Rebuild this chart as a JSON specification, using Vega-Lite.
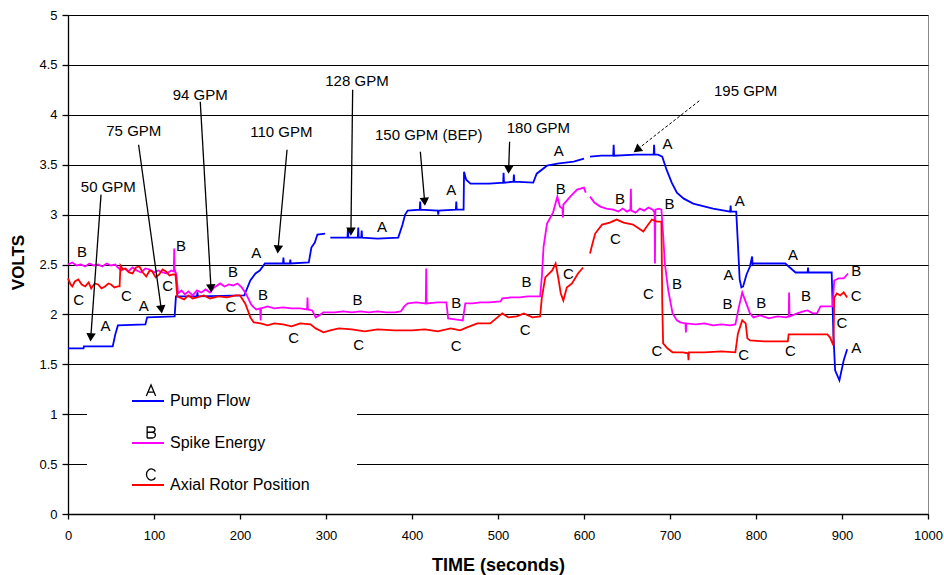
{
  "$schema": "https://vega.github.io/schema/vega-lite/v6.json",
  "width": 860,
  "height": 499,
  "autosize": {"type": "none"},
  "padding": {"left": 68, "top": 15, "right": 16, "bottom": 61},
  "background": "white",
  "config": {
    "view": {"stroke": "#888888", "strokeWidth": 1},
    "font": "Liberation Sans",
    "text": {"font": "Liberation Sans", "color": "black"}
  },
  "datasets": {
    "lines": [
      {"s":"Pump Flow","g":1,"t":0,"v":1.66},{"s":"Pump Flow","g":1,"t":18,"v":1.66},{"s":"Pump Flow","g":1,"t":18.5,"v":1.68},{"s":"Pump Flow","g":1,"t":52,"v":1.68},{"s":"Pump Flow","g":1,"t":55,"v":1.8},{"s":"Pump Flow","g":1,"t":58,"v":1.89},{"s":"Pump Flow","g":1,"t":90,"v":1.9},{"s":"Pump Flow","g":1,"t":92,"v":1.97},{"s":"Pump Flow","g":1,"t":124,"v":1.98},{"s":"Pump Flow","g":1,"t":125.5,"v":2.18},{"s":"Pump Flow","g":1,"t":150,"v":2.18},{"s":"Pump Flow","g":1,"t":150.5,"v":2.22},{"s":"Pump Flow","g":1,"t":151,"v":2.18},{"s":"Pump Flow","g":1,"t":205,"v":2.19},{"s":"Pump Flow","g":1,"t":212,"v":2.34},{"s":"Pump Flow","g":1,"t":218,"v":2.41},{"s":"Pump Flow","g":1,"t":223,"v":2.44},{"s":"Pump Flow","g":1,"t":229,"v":2.51},{"s":"Pump Flow","g":1,"t":250,"v":2.51},{"s":"Pump Flow","g":1,"t":250.5,"v":2.57},{"s":"Pump Flow","g":1,"t":251,"v":2.51},{"s":"Pump Flow","g":1,"t":258,"v":2.51},{"s":"Pump Flow","g":1,"t":258.5,"v":2.55},{"s":"Pump Flow","g":1,"t":259,"v":2.51},{"s":"Pump Flow","g":1,"t":280,"v":2.52},{"s":"Pump Flow","g":1,"t":283,"v":2.67},{"s":"Pump Flow","g":1,"t":287,"v":2.72},{"s":"Pump Flow","g":1,"t":290,"v":2.8},{"s":"Pump Flow","g":1,"t":299,"v":2.81},
      {"s":"Pump Flow","g":2,"t":305,"v":2.77},{"s":"Pump Flow","g":2,"t":325,"v":2.77},{"s":"Pump Flow","g":2,"t":325.5,"v":2.86},{"s":"Pump Flow","g":2,"t":326,"v":2.77},{"s":"Pump Flow","g":2,"t":337,"v":2.77},{"s":"Pump Flow","g":2,"t":337.5,"v":2.87},{"s":"Pump Flow","g":2,"t":338,"v":2.77},{"s":"Pump Flow","g":2,"t":341,"v":2.77},{"s":"Pump Flow","g":2,"t":341.5,"v":2.84},{"s":"Pump Flow","g":2,"t":342,"v":2.77},{"s":"Pump Flow","g":2,"t":360,"v":2.76},{"s":"Pump Flow","g":2,"t":384,"v":2.77},{"s":"Pump Flow","g":2,"t":389,"v":2.9},{"s":"Pump Flow","g":2,"t":392,"v":3.0},{"s":"Pump Flow","g":2,"t":395,"v":3.04},{"s":"Pump Flow","g":2,"t":409,"v":3.05},{"s":"Pump Flow","g":2,"t":409.5,"v":3.13},{"s":"Pump Flow","g":2,"t":410,"v":3.05},{"s":"Pump Flow","g":2,"t":430,"v":3.04},{"s":"Pump Flow","g":2,"t":430.5,"v":3.0},{"s":"Pump Flow","g":2,"t":431,"v":3.04},{"s":"Pump Flow","g":2,"t":451,"v":3.05},{"s":"Pump Flow","g":2,"t":451.5,"v":3.13},{"s":"Pump Flow","g":2,"t":452,"v":3.05},{"s":"Pump Flow","g":2,"t":460,"v":3.05},{"s":"Pump Flow","g":2,"t":460.5,"v":3.43},{"s":"Pump Flow","g":2,"t":463,"v":3.35},{"s":"Pump Flow","g":2,"t":468,"v":3.31},{"s":"Pump Flow","g":2,"t":490,"v":3.31},{"s":"Pump Flow","g":2,"t":506,"v":3.32},{"s":"Pump Flow","g":2,"t":506.5,"v":3.42},{"s":"Pump Flow","g":2,"t":507,"v":3.32},{"s":"Pump Flow","g":2,"t":518,"v":3.33},{"s":"Pump Flow","g":2,"t":518.5,"v":3.4},{"s":"Pump Flow","g":2,"t":519,"v":3.33},{"s":"Pump Flow","g":2,"t":541,"v":3.32},{"s":"Pump Flow","g":2,"t":545,"v":3.41},{"s":"Pump Flow","g":2,"t":557,"v":3.49},{"s":"Pump Flow","g":2,"t":569,"v":3.51},{"s":"Pump Flow","g":2,"t":588,"v":3.53},{"s":"Pump Flow","g":2,"t":600,"v":3.56},
      {"s":"Pump Flow","g":3,"t":607,"v":3.58},{"s":"Pump Flow","g":3,"t":620,"v":3.59},{"s":"Pump Flow","g":3,"t":634,"v":3.59},{"s":"Pump Flow","g":3,"t":634.5,"v":3.7},{"s":"Pump Flow","g":3,"t":635,"v":3.59},{"s":"Pump Flow","g":3,"t":660,"v":3.6},{"s":"Pump Flow","g":3,"t":681,"v":3.6},{"s":"Pump Flow","g":3,"t":681.5,"v":3.7},{"s":"Pump Flow","g":3,"t":682,"v":3.6},{"s":"Pump Flow","g":3,"t":686,"v":3.6},{"s":"Pump Flow","g":3,"t":691,"v":3.58},{"s":"Pump Flow","g":3,"t":696,"v":3.45},{"s":"Pump Flow","g":3,"t":702,"v":3.32},{"s":"Pump Flow","g":3,"t":708,"v":3.22},{"s":"Pump Flow","g":3,"t":716,"v":3.16},{"s":"Pump Flow","g":3,"t":727,"v":3.11},{"s":"Pump Flow","g":3,"t":750,"v":3.06},{"s":"Pump Flow","g":3,"t":770,"v":3.03},{"s":"Pump Flow","g":3,"t":770.5,"v":3.09},{"s":"Pump Flow","g":3,"t":771,"v":3.03},{"s":"Pump Flow","g":3,"t":777,"v":3.03},{"s":"Pump Flow","g":3,"t":779,"v":2.7},{"s":"Pump Flow","g":3,"t":781,"v":2.35},{"s":"Pump Flow","g":3,"t":783,"v":2.27},{"s":"Pump Flow","g":3,"t":785,"v":2.28},{"s":"Pump Flow","g":3,"t":789,"v":2.4},{"s":"Pump Flow","g":3,"t":793,"v":2.48},{"s":"Pump Flow","g":3,"t":795.5,"v":2.58},{"s":"Pump Flow","g":3,"t":796,"v":2.5},{"s":"Pump Flow","g":3,"t":797,"v":2.51},{"s":"Pump Flow","g":3,"t":834,"v":2.51},{"s":"Pump Flow","g":3,"t":846,"v":2.42},{"s":"Pump Flow","g":3,"t":860,"v":2.42},{"s":"Pump Flow","g":3,"t":860.5,"v":2.47},{"s":"Pump Flow","g":3,"t":861,"v":2.42},{"s":"Pump Flow","g":3,"t":888,"v":2.42},{"s":"Pump Flow","g":3,"t":890,"v":1.8},{"s":"Pump Flow","g":3,"t":892,"v":1.44},{"s":"Pump Flow","g":3,"t":897,"v":1.34},{"s":"Pump Flow","g":3,"t":902,"v":1.54},{"s":"Pump Flow","g":3,"t":906,"v":1.65},

      {"s":"Spike Energy","g":1,"t":0,"v":2.5},{"s":"Spike Energy","g":1,"t":5,"v":2.52},{"s":"Spike Energy","g":1,"t":10,"v":2.49},{"s":"Spike Energy","g":1,"t":15,"v":2.5},{"s":"Spike Energy","g":1,"t":20,"v":2.48},{"s":"Spike Energy","g":1,"t":25,"v":2.51},{"s":"Spike Energy","g":1,"t":30,"v":2.49},{"s":"Spike Energy","g":1,"t":35,"v":2.5},{"s":"Spike Energy","g":1,"t":40,"v":2.48},{"s":"Spike Energy","g":1,"t":45,"v":2.51},{"s":"Spike Energy","g":1,"t":50,"v":2.49},{"s":"Spike Energy","g":1,"t":55,"v":2.5},{"s":"Spike Energy","g":1,"t":58,"v":2.47},{"s":"Spike Energy","g":1,"t":62,"v":2.44},{"s":"Spike Energy","g":1,"t":66,"v":2.46},{"s":"Spike Energy","g":1,"t":70,"v":2.43},{"s":"Spike Energy","g":1,"t":75,"v":2.47},{"s":"Spike Energy","g":1,"t":80,"v":2.44},{"s":"Spike Energy","g":1,"t":85,"v":2.42},{"s":"Spike Energy","g":1,"t":90,"v":2.46},{"s":"Spike Energy","g":1,"t":95,"v":2.45},{"s":"Spike Energy","g":1,"t":100,"v":2.42},{"s":"Spike Energy","g":1,"t":105,"v":2.44},{"s":"Spike Energy","g":1,"t":110,"v":2.42},{"s":"Spike Energy","g":1,"t":115,"v":2.41},{"s":"Spike Energy","g":1,"t":120,"v":2.44},{"s":"Spike Energy","g":1,"t":123,"v":2.43},{"s":"Spike Energy","g":1,"t":123.5,"v":2.66},{"s":"Spike Energy","g":1,"t":124,"v":2.45},{"s":"Spike Energy","g":1,"t":126,"v":2.4},{"s":"Spike Energy","g":1,"t":128,"v":2.21},{"s":"Spike Energy","g":1,"t":132,"v":2.24},{"s":"Spike Energy","g":1,"t":136,"v":2.2},{"s":"Spike Energy","g":1,"t":140,"v":2.23},{"s":"Spike Energy","g":1,"t":145,"v":2.19},{"s":"Spike Energy","g":1,"t":150,"v":2.24},{"s":"Spike Energy","g":1,"t":155,"v":2.22},{"s":"Spike Energy","g":1,"t":160,"v":2.25},{"s":"Spike Energy","g":1,"t":165,"v":2.22},{"s":"Spike Energy","g":1,"t":170,"v":2.27},{"s":"Spike Energy","g":1,"t":177,"v":2.31},{"s":"Spike Energy","g":1,"t":182,"v":2.28},{"s":"Spike Energy","g":1,"t":187,"v":2.3},{"s":"Spike Energy","g":1,"t":192,"v":2.29},{"s":"Spike Energy","g":1,"t":197,"v":2.31},{"s":"Spike Energy","g":1,"t":202,"v":2.27},{"s":"Spike Energy","g":1,"t":206,"v":2.22},{"s":"Spike Energy","g":1,"t":209,"v":2.17},{"s":"Spike Energy","g":1,"t":213,"v":2.1},{"s":"Spike Energy","g":1,"t":216,"v":2.07},{"s":"Spike Energy","g":1,"t":219,"v":2.05},{"s":"Spike Energy","g":1,"t":223.5,"v":2.06},{"s":"Spike Energy","g":1,"t":224,"v":1.94},{"s":"Spike Energy","g":1,"t":224.5,"v":2.06},{"s":"Spike Energy","g":1,"t":232,"v":2.08},{"s":"Spike Energy","g":1,"t":240,"v":2.06},{"s":"Spike Energy","g":1,"t":250,"v":2.07},{"s":"Spike Energy","g":1,"t":260,"v":2.06},{"s":"Spike Energy","g":1,"t":270,"v":2.06},{"s":"Spike Energy","g":1,"t":278,"v":2.05},{"s":"Spike Energy","g":1,"t":278.5,"v":2.17},{"s":"Spike Energy","g":1,"t":279,"v":2.05},{"s":"Spike Energy","g":1,"t":284,"v":2.04},{"s":"Spike Energy","g":1,"t":288,"v":1.97},{"s":"Spike Energy","g":1,"t":292,"v":1.99},{"s":"Spike Energy","g":1,"t":297,"v":2.02},{"s":"Spike Energy","g":1,"t":310,"v":2.02},{"s":"Spike Energy","g":1,"t":320,"v":2.03},{"s":"Spike Energy","g":1,"t":330,"v":2.02},{"s":"Spike Energy","g":1,"t":340,"v":2.03},{"s":"Spike Energy","g":1,"t":350,"v":2.02},{"s":"Spike Energy","g":1,"t":360,"v":2.03},{"s":"Spike Energy","g":1,"t":370,"v":2.02},{"s":"Spike Energy","g":1,"t":380,"v":2.02},{"s":"Spike Energy","g":1,"t":387,"v":2.03},{"s":"Spike Energy","g":1,"t":391,"v":2.08},{"s":"Spike Energy","g":1,"t":395,"v":2.11},{"s":"Spike Energy","g":1,"t":405,"v":2.12},{"s":"Spike Energy","g":1,"t":416,"v":2.11},{"s":"Spike Energy","g":1,"t":416.5,"v":2.46},{"s":"Spike Energy","g":1,"t":417,"v":2.11},{"s":"Spike Energy","g":1,"t":430,"v":2.12},{"s":"Spike Energy","g":1,"t":440,"v":2.12},{"s":"Spike Energy","g":1,"t":442,"v":1.96},{"s":"Spike Energy","g":1,"t":450,"v":1.95},{"s":"Spike Energy","g":1,"t":459,"v":1.94},{"s":"Spike Energy","g":1,"t":462,"v":2.11},{"s":"Spike Energy","g":1,"t":470,"v":2.11},{"s":"Spike Energy","g":1,"t":480,"v":2.12},{"s":"Spike Energy","g":1,"t":490,"v":2.12},{"s":"Spike Energy","g":1,"t":503,"v":2.13},{"s":"Spike Energy","g":1,"t":505,"v":2.16},{"s":"Spike Energy","g":1,"t":515,"v":2.17},{"s":"Spike Energy","g":1,"t":525,"v":2.17},{"s":"Spike Energy","g":1,"t":535,"v":2.18},{"s":"Spike Energy","g":1,"t":549,"v":2.18},{"s":"Spike Energy","g":1,"t":551,"v":2.38},{"s":"Spike Energy","g":1,"t":553,"v":2.68},{"s":"Spike Energy","g":1,"t":557,"v":2.91},{"s":"Spike Energy","g":1,"t":564,"v":3.02},{"s":"Spike Energy","g":1,"t":569,"v":3.18},{"s":"Spike Energy","g":1,"t":572,"v":3.08},{"s":"Spike Energy","g":1,"t":575,"v":3.06},{"s":"Spike Energy","g":1,"t":575.5,"v":2.97},{"s":"Spike Energy","g":1,"t":576,"v":3.1},{"s":"Spike Energy","g":1,"t":584,"v":3.18},{"s":"Spike Energy","g":1,"t":592,"v":3.25},{"s":"Spike Energy","g":1,"t":600,"v":3.27},{"s":"Spike Energy","g":1,"t":602,"v":3.22},
      {"s":"Spike Energy","g":2,"t":607,"v":3.18},{"s":"Spike Energy","g":2,"t":612,"v":3.12},{"s":"Spike Energy","g":2,"t":619,"v":3.08},{"s":"Spike Energy","g":2,"t":626,"v":3.06},{"s":"Spike Energy","g":2,"t":634,"v":3.05},{"s":"Spike Energy","g":2,"t":640,"v":3.03},{"s":"Spike Energy","g":2,"t":645,"v":3.06},{"s":"Spike Energy","g":2,"t":650,"v":3.03},{"s":"Spike Energy","g":2,"t":654,"v":3.05},{"s":"Spike Energy","g":2,"t":654.5,"v":3.26},{"s":"Spike Energy","g":2,"t":655,"v":3.04},{"s":"Spike Energy","g":2,"t":660,"v":3.02},{"s":"Spike Energy","g":2,"t":665,"v":3.06},{"s":"Spike Energy","g":2,"t":670,"v":3.04},{"s":"Spike Energy","g":2,"t":675,"v":3.07},{"s":"Spike Energy","g":2,"t":680,"v":3.05},{"s":"Spike Energy","g":2,"t":682,"v":3.02},{"s":"Spike Energy","g":2,"t":682.5,"v":2.51},{"s":"Spike Energy","g":2,"t":683,"v":3.05},{"s":"Spike Energy","g":2,"t":687,"v":3.06},{"s":"Spike Energy","g":2,"t":690,"v":3.05},{"s":"Spike Energy","g":2,"t":692,"v":2.8},{"s":"Spike Energy","g":2,"t":694,"v":2.51},{"s":"Spike Energy","g":2,"t":698,"v":2.24},{"s":"Spike Energy","g":2,"t":703,"v":2.01},{"s":"Spike Energy","g":2,"t":708,"v":1.94},{"s":"Spike Energy","g":2,"t":712,"v":1.92},{"s":"Spike Energy","g":2,"t":718,"v":1.91},{"s":"Spike Energy","g":2,"t":718.5,"v":1.82},{"s":"Spike Energy","g":2,"t":719,"v":1.91},{"s":"Spike Energy","g":2,"t":730,"v":1.9},{"s":"Spike Energy","g":2,"t":740,"v":1.91},{"s":"Spike Energy","g":2,"t":750,"v":1.89},{"s":"Spike Energy","g":2,"t":760,"v":1.9},{"s":"Spike Energy","g":2,"t":770,"v":1.89},{"s":"Spike Energy","g":2,"t":776,"v":1.9},{"s":"Spike Energy","g":2,"t":780,"v":2.07},{"s":"Spike Energy","g":2,"t":784,"v":2.22},{"s":"Spike Energy","g":2,"t":787,"v":2.15},{"s":"Spike Energy","g":2,"t":790,"v":2.08},{"s":"Spike Energy","g":2,"t":793,"v":2.01},{"s":"Spike Energy","g":2,"t":797,"v":1.97},{"s":"Spike Energy","g":2,"t":805,"v":1.99},{"s":"Spike Energy","g":2,"t":815,"v":1.96},{"s":"Spike Energy","g":2,"t":825,"v":1.98},{"s":"Spike Energy","g":2,"t":835,"v":1.97},{"s":"Spike Energy","g":2,"t":838,"v":1.98},{"s":"Spike Energy","g":2,"t":838.5,"v":2.22},{"s":"Spike Energy","g":2,"t":839,"v":1.98},{"s":"Spike Energy","g":2,"t":848,"v":2.01},{"s":"Spike Energy","g":2,"t":855,"v":2.03},{"s":"Spike Energy","g":2,"t":860,"v":2.04},{"s":"Spike Energy","g":2,"t":866,"v":2.01},{"s":"Spike Energy","g":2,"t":871,"v":2.01},{"s":"Spike Energy","g":2,"t":875,"v":2.08},{"s":"Spike Energy","g":2,"t":889,"v":2.08},{"s":"Spike Energy","g":2,"t":891,"v":2.34},{"s":"Spike Energy","g":2,"t":896,"v":2.36},{"s":"Spike Energy","g":2,"t":902,"v":2.36},{"s":"Spike Energy","g":2,"t":907,"v":2.41},

      {"s":"Axial Rotor Position","g":1,"t":0,"v":2.36},{"s":"Axial Rotor Position","g":1,"t":3,"v":2.3},{"s":"Axial Rotor Position","g":1,"t":5,"v":2.28},{"s":"Axial Rotor Position","g":1,"t":8,"v":2.33},{"s":"Axial Rotor Position","g":1,"t":12,"v":2.35},{"s":"Axial Rotor Position","g":1,"t":16,"v":2.3},{"s":"Axial Rotor Position","g":1,"t":20,"v":2.28},{"s":"Axial Rotor Position","g":1,"t":24,"v":2.32},{"s":"Axial Rotor Position","g":1,"t":27,"v":2.26},{"s":"Axial Rotor Position","g":1,"t":31,"v":2.31},{"s":"Axial Rotor Position","g":1,"t":35,"v":2.3},{"s":"Axial Rotor Position","g":1,"t":39,"v":2.26},{"s":"Axial Rotor Position","g":1,"t":43,"v":2.28},{"s":"Axial Rotor Position","g":1,"t":47,"v":2.31},{"s":"Axial Rotor Position","g":1,"t":50,"v":2.3},{"s":"Axial Rotor Position","g":1,"t":54,"v":2.27},{"s":"Axial Rotor Position","g":1,"t":58,"v":2.28},{"s":"Axial Rotor Position","g":1,"t":60,"v":2.28},{"s":"Axial Rotor Position","g":1,"t":61,"v":2.49},{"s":"Axial Rotor Position","g":1,"t":64,"v":2.45},{"s":"Axial Rotor Position","g":1,"t":67,"v":2.46},{"s":"Axial Rotor Position","g":1,"t":71,"v":2.42},{"s":"Axial Rotor Position","g":1,"t":75,"v":2.41},{"s":"Axial Rotor Position","g":1,"t":79,"v":2.47},{"s":"Axial Rotor Position","g":1,"t":83,"v":2.48},{"s":"Axial Rotor Position","g":1,"t":87,"v":2.42},{"s":"Axial Rotor Position","g":1,"t":91,"v":2.38},{"s":"Axial Rotor Position","g":1,"t":95,"v":2.44},{"s":"Axial Rotor Position","g":1,"t":98,"v":2.43},{"s":"Axial Rotor Position","g":1,"t":102,"v":2.37},{"s":"Axial Rotor Position","g":1,"t":106,"v":2.4},{"s":"Axial Rotor Position","g":1,"t":110,"v":2.45},{"s":"Axial Rotor Position","g":1,"t":114,"v":2.43},{"s":"Axial Rotor Position","g":1,"t":118,"v":2.39},{"s":"Axial Rotor Position","g":1,"t":122,"v":2.4},{"s":"Axial Rotor Position","g":1,"t":125,"v":2.4},{"s":"Axial Rotor Position","g":1,"t":127,"v":2.18},{"s":"Axial Rotor Position","g":1,"t":135,"v":2.15},{"s":"Axial Rotor Position","g":1,"t":140,"v":2.19},{"s":"Axial Rotor Position","g":1,"t":145,"v":2.16},{"s":"Axial Rotor Position","g":1,"t":150,"v":2.17},{"s":"Axial Rotor Position","g":1,"t":158,"v":2.19},{"s":"Axial Rotor Position","g":1,"t":165,"v":2.16},{"s":"Axial Rotor Position","g":1,"t":175,"v":2.18},{"s":"Axial Rotor Position","g":1,"t":185,"v":2.17},{"s":"Axial Rotor Position","g":1,"t":195,"v":2.19},{"s":"Axial Rotor Position","g":1,"t":200,"v":2.19},{"s":"Axial Rotor Position","g":1,"t":206,"v":2.11},{"s":"Axial Rotor Position","g":1,"t":210,"v":2.02},{"s":"Axial Rotor Position","g":1,"t":212,"v":1.97},{"s":"Axial Rotor Position","g":1,"t":216,"v":1.92},{"s":"Axial Rotor Position","g":1,"t":224,"v":1.91},{"s":"Axial Rotor Position","g":1,"t":232,"v":1.89},{"s":"Axial Rotor Position","g":1,"t":240,"v":1.91},{"s":"Axial Rotor Position","g":1,"t":250,"v":1.9},{"s":"Axial Rotor Position","g":1,"t":260,"v":1.88},{"s":"Axial Rotor Position","g":1,"t":270,"v":1.91},{"s":"Axial Rotor Position","g":1,"t":282,"v":1.9},{"s":"Axial Rotor Position","g":1,"t":288,"v":1.86},{"s":"Axial Rotor Position","g":1,"t":297,"v":1.82},{"s":"Axial Rotor Position","g":1,"t":305,"v":1.84},{"s":"Axial Rotor Position","g":1,"t":315,"v":1.86},{"s":"Axial Rotor Position","g":1,"t":330,"v":1.85},{"s":"Axial Rotor Position","g":1,"t":345,"v":1.83},{"s":"Axial Rotor Position","g":1,"t":360,"v":1.85},{"s":"Axial Rotor Position","g":1,"t":380,"v":1.84},{"s":"Axial Rotor Position","g":1,"t":400,"v":1.84},{"s":"Axial Rotor Position","g":1,"t":415,"v":1.85},{"s":"Axial Rotor Position","g":1,"t":430,"v":1.83},{"s":"Axial Rotor Position","g":1,"t":445,"v":1.86},{"s":"Axial Rotor Position","g":1,"t":456,"v":1.84},{"s":"Axial Rotor Position","g":1,"t":464,"v":1.87},{"s":"Axial Rotor Position","g":1,"t":476,"v":1.91},{"s":"Axial Rotor Position","g":1,"t":491,"v":1.91},{"s":"Axial Rotor Position","g":1,"t":505,"v":2.01},{"s":"Axial Rotor Position","g":1,"t":512,"v":1.97},{"s":"Axial Rotor Position","g":1,"t":522,"v":1.98},{"s":"Axial Rotor Position","g":1,"t":530,"v":2.01},{"s":"Axial Rotor Position","g":1,"t":540,"v":1.97},{"s":"Axial Rotor Position","g":1,"t":549,"v":1.98},{"s":"Axial Rotor Position","g":1,"t":551,"v":2.17},{"s":"Axial Rotor Position","g":1,"t":555,"v":2.37},{"s":"Axial Rotor Position","g":1,"t":563,"v":2.44},{"s":"Axial Rotor Position","g":1,"t":567,"v":2.51},{"s":"Axial Rotor Position","g":1,"t":570,"v":2.37},{"s":"Axial Rotor Position","g":1,"t":573,"v":2.21},{"s":"Axial Rotor Position","g":1,"t":576,"v":2.14},{"s":"Axial Rotor Position","g":1,"t":580,"v":2.27},{"s":"Axial Rotor Position","g":1,"t":586,"v":2.31},{"s":"Axial Rotor Position","g":1,"t":593,"v":2.41},{"s":"Axial Rotor Position","g":1,"t":599,"v":2.47},
      {"s":"Axial Rotor Position","g":2,"t":607,"v":2.61},{"s":"Axial Rotor Position","g":2,"t":609,"v":2.68},{"s":"Axial Rotor Position","g":2,"t":613,"v":2.81},{"s":"Axial Rotor Position","g":2,"t":621,"v":2.9},{"s":"Axial Rotor Position","g":2,"t":630,"v":2.92},{"s":"Axial Rotor Position","g":2,"t":638,"v":2.95},{"s":"Axial Rotor Position","g":2,"t":646,"v":2.92},{"s":"Axial Rotor Position","g":2,"t":657,"v":2.9},{"s":"Axial Rotor Position","g":2,"t":669,"v":2.83},{"s":"Axial Rotor Position","g":2,"t":673,"v":2.88},{"s":"Axial Rotor Position","g":2,"t":679,"v":2.95},{"s":"Axial Rotor Position","g":2,"t":685,"v":2.93},{"s":"Axial Rotor Position","g":2,"t":690,"v":2.93},{"s":"Axial Rotor Position","g":2,"t":691,"v":2.11},{"s":"Axial Rotor Position","g":2,"t":692,"v":1.71},{"s":"Axial Rotor Position","g":2,"t":697,"v":1.66},{"s":"Axial Rotor Position","g":2,"t":703,"v":1.62},{"s":"Axial Rotor Position","g":2,"t":715,"v":1.62},{"s":"Axial Rotor Position","g":2,"t":721,"v":1.61},{"s":"Axial Rotor Position","g":2,"t":721.5,"v":1.54},{"s":"Axial Rotor Position","g":2,"t":722,"v":1.62},{"s":"Axial Rotor Position","g":2,"t":740,"v":1.62},{"s":"Axial Rotor Position","g":2,"t":760,"v":1.63},{"s":"Axial Rotor Position","g":2,"t":776,"v":1.62},{"s":"Axial Rotor Position","g":2,"t":779,"v":1.81},{"s":"Axial Rotor Position","g":2,"t":784,"v":1.94},{"s":"Axial Rotor Position","g":2,"t":788,"v":1.91},{"s":"Axial Rotor Position","g":2,"t":790,"v":1.76},{"s":"Axial Rotor Position","g":2,"t":793,"v":1.74},{"s":"Axial Rotor Position","g":2,"t":810,"v":1.73},{"s":"Axial Rotor Position","g":2,"t":837,"v":1.73},{"s":"Axial Rotor Position","g":2,"t":838,"v":1.8},{"s":"Axial Rotor Position","g":2,"t":860,"v":1.8},{"s":"Axial Rotor Position","g":2,"t":883,"v":1.8},{"s":"Axial Rotor Position","g":2,"t":886,"v":1.77},{"s":"Axial Rotor Position","g":2,"t":890,"v":1.69},{"s":"Axial Rotor Position","g":2,"t":891,"v":2.17},{"s":"Axial Rotor Position","g":2,"t":894,"v":2.21},{"s":"Axial Rotor Position","g":2,"t":898,"v":2.19},{"s":"Axial Rotor Position","g":2,"t":902,"v":2.22},{"s":"Axial Rotor Position","g":2,"t":906,"v":2.17}
    ],
    "marks": [
      {"k":"A","t":43.6,"v":1.88},{"k":"A","t":88,"v":2.08},{"k":"A","t":219,"v":2.62},{"k":"A","t":365,"v":2.88},{"k":"A","t":445.7,"v":3.25},{"k":"A","t":570.5,"v":3.64},{"k":"A","t":697,"v":3.71},{"k":"A","t":781,"v":3.14},{"k":"A","t":768,"v":2.39},{"k":"A","t":843,"v":2.6},{"k":"A","t":916.6,"v":1.66},
      {"k":"B","t":16.3,"v":2.63},{"k":"B","t":131.4,"v":2.69},{"k":"B","t":191.9,"v":2.42},{"k":"B","t":226.7,"v":2.19},{"k":"B","t":336.7,"v":2.14},{"k":"B","t":451.5,"v":2.11},{"k":"B","t":533,"v":2.32},{"k":"B","t":573,"v":3.26},{"k":"B","t":642,"v":3.16},{"k":"B","t":699.5,"v":3.11},{"k":"B","t":708,"v":2.3},{"k":"B","t":767,"v":2.1},{"k":"B","t":806,"v":2.11},{"k":"B","t":858,"v":2.18},{"k":"B","t":916.6,"v":2.43},
      {"k":"C","t":12.3,"v":2.14},{"k":"C","t":67.8,"v":2.18},{"k":"C","t":115.8,"v":2.28},{"k":"C","t":189.5,"v":2.07},{"k":"C","t":262.3,"v":1.76},{"k":"C","t":338,"v":1.69},{"k":"C","t":451.5,"v":1.68},{"k":"C","t":531.7,"v":1.84},{"k":"C","t":582,"v":2.4},{"k":"C","t":636.4,"v":2.76},{"k":"C","t":675,"v":2.2},{"k":"C","t":684.9,"v":1.63},{"k":"C","t":785.6,"v":1.59},{"k":"C","t":839.9,"v":1.63},{"k":"C","t":900,"v":1.91},{"k":"C","t":916.6,"v":2.18}
    ],
    "arrows": [
      {"label":"50 GPM","tx":46.9,"ty":3.28,"x1":38.4,"y1":3.2,"x2":26.5,"y2":1.77},
      {"label":"75 GPM","tx":76.5,"ty":3.84,"x1":82.1,"y1":3.7,"x2":108.5,"y2":2.05},
      {"label":"94 GPM","tx":153.8,"ty":4.2,"x1":153.8,"y1":4.13,"x2":166.3,"y2":2.26},
      {"label":"110 GPM","tx":248,"ty":3.83,"x1":254.7,"y1":3.65,"x2":244.2,"y2":2.65},
      {"label":"128 GPM","tx":336,"ty":4.34,"x1":331,"y1":4.25,"x2":329,"y2":2.83},
      {"label":"150 GPM (BEP)","tx":419.5,"ty":3.8,"x1":409.7,"y1":3.63,"x2":414.7,"y2":3.13},
      {"label":"180 GPM","tx":547,"ty":3.87,"x1":513.5,"y1":3.73,"x2":512.4,"y2":3.45},
      {"label":"195 GPM","tx":788,"ty":4.24,"x1":734,"y1":4.14,"x2":661.6,"y2":3.65}
    ],
    "letters": [{"letter":"A"},{"letter":"B"},{"letter":"C"}]
  },
  "layer": [
    {
      "data": {"name": "lines"},
      "mark": {"type": "line", "strokeWidth": 1.8},
      "encoding": {
        "x": {"field": "t", "type": "quantitative", "title": "TIME (seconds)",
          "scale": {"domain": [0, 1000], "nice": false},
          "axis": {"values": [0,100,200,300,400,500,600,700,800,900,1000], "format": "d", "grid": false, "tickSize": 5, "tickColor": "black", "domainColor": "black", "domainWidth": 1.3, "tickWidth": 1.3, "labelFontSize": 13, "labelColor": "black", "labelPadding": 10, "labelFlush": false, "labelOverlap": false, "titleFontSize": 18, "titleFontWeight": "bold", "titleColor": "black", "titlePadding": 14}},
        "y": {"field": "v", "type": "quantitative", "title": "VOLTS",
          "scale": {"domain": [0, 5], "nice": false},
          "axis": {"values": [0,0.5,1,1.5,2,2.5,3,3.5,4,4.5,5], "format": "~g", "grid": true, "gridColor": "black", "gridOpacity": 1, "gridWidth": 1.1, "tickSize": 6, "tickColor": "black", "tickWidth": 1.3, "domainColor": "black", "domainWidth": 1.3, "labelFontSize": 13, "labelColor": "black", "labelPadding": 5, "labelOverlap": false, "titleFontSize": 17, "titleFontWeight": "bold", "titleColor": "black", "titleX": -50, "titleY": 247, "titleAngle": 270, "titleBaseline": "middle", "titleAlign": "center"}},
        "color": {"field": "s", "type": "nominal",
          "scale": {"domain": ["Pump Flow", "Spike Energy", "Axial Rotor Position"], "range": ["#0000ff", "#ff00ff", "#ff0000"]},
          "legend": {"orient": "none", "legendX": 19, "legendY": 359, "title": " ", "titleOrient": "right", "titlePadding": 37, "padding": 10, "fillColor": "white", "symbolType": "stroke", "symbolSize": 1024, "symbolStrokeWidth": 2, "symbolOffset": 34, "labelOffset": 5, "labelFontSize": 16, "labelFont": "Liberation Sans", "labelColor": "black", "rowPadding": 17, "labelLimit": 0, "zindex": 1}},
        "detail": {"field": "g", "type": "nominal"}
      }
    },
    {
      "data": {"name": "letters"},
      "mark": {"type": "point", "opacity": 0, "filled": false, "color": "black"},
      "encoding": {
        "x": {"datum": 0, "title": "TIME (seconds)"},
        "y": {"datum": 0, "title": "VOLTS"},
        "shape": {"field": "letter", "type": "nominal",
          "scale": {"domain": ["A", "B", "C"], "range": [
            "M-0.85,1L0,-1L0.85,1M-0.5,0.3L0.5,0.3",
            "M-0.7,1V-1H0.2C0.9,-1 0.9,-0.05 0.2,-0.05H-0.7M0.2,-0.05C1.0,-0.05 1.0,1 0.2,1H-0.7",
            "M0.8,-0.55C0.6,-1.05 -0.05,-1.15 -0.45,-0.8C-0.95,-0.35 -0.95,0.35 -0.45,0.8C-0.05,1.15 0.6,1.05 0.8,0.55"
          ]},
          "legend": {"orient": "none", "legendX": 76.5, "legendY": 369, "title": null, "labelExpr": "''", "labelFontSize": 1, "padding": 0, "symbolSize": 121, "symbolStrokeWidth": 1.3, "symbolStrokeColor": "black", "symbolFillColor": "transparent", "symbolOpacity": 1, "symbolOffset": 0, "rowPadding": 25, "zindex": 2}}
      }
    },
    {
      "data": {"name": "marks"},
      "mark": {"type": "text", "fontSize": 15, "font": "Liberation Sans", "color": "black", "align": "center", "baseline": "middle"},
      "encoding": {
        "x": {"field": "t", "type": "quantitative", "title": "TIME (seconds)"},
        "y": {"field": "v", "type": "quantitative", "title": "VOLTS"},
        "text": {"field": "k"}
      }
    },
    {
      "data": {"name": "arrows"},
      "layer": [
        {
          "transform": [{"filter": "datum.label !== '195 GPM'"}],
          "mark": {"type": "rule", "color": "black", "strokeWidth": 1.3},
          "encoding": {
            "x": {"field": "x1", "type": "quantitative", "title": "TIME (seconds)"},
            "y": {"field": "y1", "type": "quantitative", "title": "VOLTS"},
            "x2": {"field": "x2"},
            "y2": {"field": "y2"}
          }
        },
        {
          "transform": [{"filter": "datum.label === '195 GPM'"}],
          "mark": {"type": "rule", "color": "black", "strokeWidth": 1, "strokeDash": [3, 2]},
          "encoding": {
            "x": {"field": "x1", "type": "quantitative", "title": "TIME (seconds)"},
            "y": {"field": "y1", "type": "quantitative", "title": "VOLTS"},
            "x2": {"field": "x2"},
            "y2": {"field": "y2"}
          }
        },
        {
          "transform": [{"calculate": "atan2(-(datum.x2 - datum.x1) * 0.86, (datum.y1 - datum.y2) * 99.8) * 180 / PI", "as": "ang"}],
          "mark": {"type": "point", "shape": "triangle-down", "filled": true, "color": "black", "size": 90, "opacity": 1},
          "encoding": {
            "x": {"field": "x2", "type": "quantitative", "title": "TIME (seconds)"},
            "y": {"field": "y2", "type": "quantitative", "title": "VOLTS"},
            "angle": {"field": "ang", "type": "quantitative", "scale": null}
          }
        },
        {
          "mark": {"type": "text", "fontSize": 15, "font": "Liberation Sans", "color": "black", "align": "center", "baseline": "middle"},
          "encoding": {
            "x": {"field": "tx", "type": "quantitative", "title": "TIME (seconds)"},
            "y": {"field": "ty", "type": "quantitative", "title": "VOLTS"},
            "text": {"field": "label"}
          }
        }
      ]
    }
  ]
}
